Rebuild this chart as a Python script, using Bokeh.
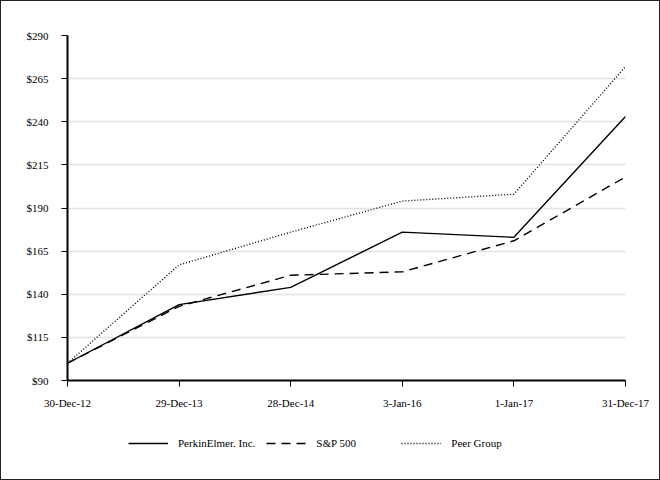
from bokeh.plotting import figure
from bokeh.layouts import column
from bokeh.models import FixedTicker, Legend, LegendItem, Range1d
from bokeh.embed import file_html
from bokeh.resources import INLINE

dates = ["30-Dec-12", "29-Dec-13", "28-Dec-14", "3-Jan-16", "1-Jan-17", "31-Dec-17"]
perkinelmer = [100, 134, 144, 176, 173, 243]
sp500 = [100, 133, 151, 153, 171, 208]
peer_group = [100, 157, 176, 194, 198, 272]
y_ticks = [90, 115, 140, 165, 190, 215, 240, 265, 290]
series_names = ["PerkinElmer. Inc.", "S&P 500", "Peer Group"]

FONT = "Liberation Serif"
W = 658
xs = list(range(len(dates)))
series = [perkinelmer, sp500, peer_group]
styles = [dict(line_dash="solid"), dict(line_dash="9 6"), dict(line_dash="1 2")]

p = figure(width=W, height=420, output_backend="svg", toolbar_location=None,
           x_range=Range1d(0, len(dates) - 1), y_range=Range1d(90, 290),
           min_border_left=66, min_border_right=34, min_border_top=34, min_border_bottom=41)
p.outline_line_color = None
p.background_fill_color = "white"
p.border_fill_color = "white"

for ys, st in zip(series, styles):
    p.line(xs, ys, line_color="black", line_width=1.4, **st)

p.xgrid.grid_line_color = None
p.ygrid.grid_line_color = "#e3e3e3"
p.ygrid.grid_line_width = 1.5
p.yaxis.ticker = FixedTicker(ticks=y_ticks)
p.xaxis.ticker = FixedTicker(ticks=xs)
p.xaxis.major_label_overrides = {i: d for i, d in enumerate(dates)}
p.yaxis.major_label_overrides = {t: "$%d" % t for t in y_ticks}

for ax in (p.xaxis, p.yaxis):
    ax.axis_line_color = "black"
    ax.axis_line_width = 2
    ax.major_tick_line_color = "black"
    ax.major_tick_line_width = 1
    ax.major_tick_in = 0
    ax.major_tick_out = 6
    ax.minor_tick_line_color = None
    ax.major_label_text_font = FONT
    ax.major_label_text_font_size = "11px"
    ax.major_label_text_color = "black"
p.yaxis.major_label_standoff = 13
p.xaxis.major_label_standoff = 10

# legend strip below the chart (its lines fall outside its own range, so only the legend shows)
p2 = figure(width=W, height=58, output_backend="svg", toolbar_location=None,
            x_range=Range1d(0, 1), y_range=Range1d(0, 1),
            x_axis_location=None, y_axis_location=None,
            min_border=0, min_border_left=0, min_border_right=0,
            min_border_top=0, min_border_bottom=0)
p2.outline_line_color = None
p2.grid.grid_line_color = None
p2.background_fill_color = "white"
p2.border_fill_color = "white"
items = []
for name, ys, st in zip(series_names, series, styles):
    r = p2.line(xs, ys, line_color="black", line_width=1.4, **st)
    items.append(LegendItem(label=name, renderers=[r]))
legend = Legend(items=items, orientation="horizontal", location=(61, 29),
                label_text_font=FONT, label_text_font_size="11px",
                label_text_color="black", glyph_width=40, glyph_height=14,
                label_height=14, label_width=74, spacing=11, label_standoff=10,
                border_line_color=None, background_fill_alpha=0, margin=0, padding=0)
p2.add_layout(legend, "center")

layout = column(p, p2, spacing=0)
layout.styles = {"border": "1px solid #222"}

open("out.html", "w").write(file_html(layout, INLINE))
